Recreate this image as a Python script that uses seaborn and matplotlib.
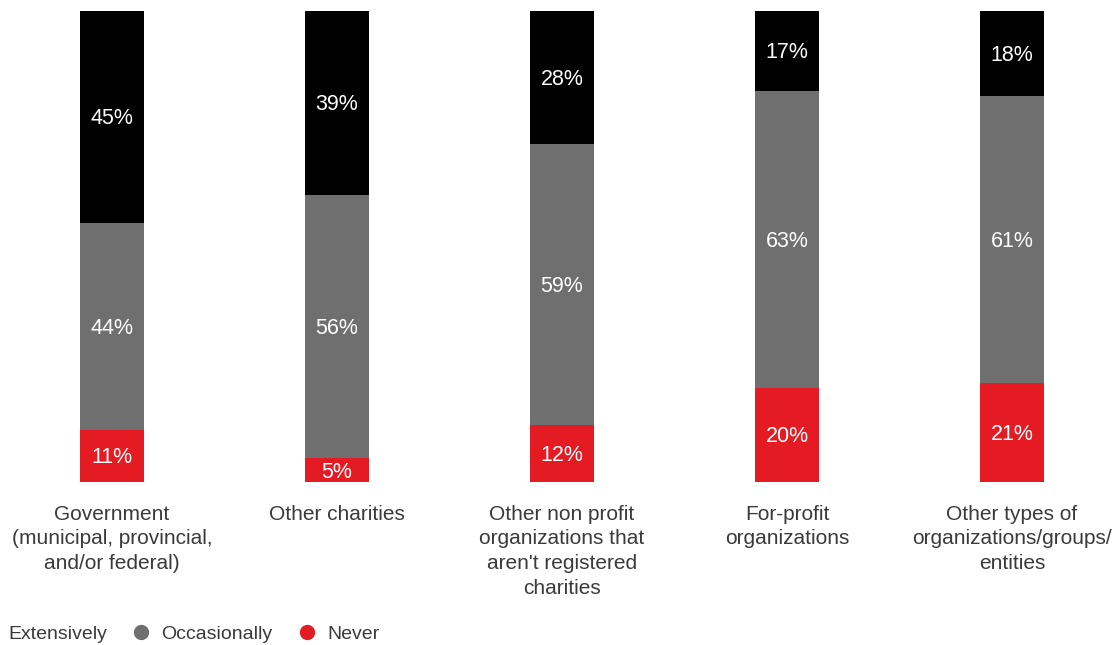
import matplotlib
matplotlib.use("Agg")
import matplotlib.pyplot as plt
from matplotlib.lines import Line2D
import numpy as np
import pandas as pd
import seaborn as sns

categories = [
    "Government\n(municipal, provincial,\nand/or federal)",
    "Other charities",
    "Other non profit\norganizations that\naren't registered\ncharities",
    "For-profit\norganizations",
    "Other types of\norganizations/groups/\nentities",
]
series = ["Extensively", "Occasionally", "Never"]
extensively = [45, 39, 28, 17, 18]
occasionally = [44, 56, 59, 63, 61]
never = [11, 5, 12, 20, 21]
colors = {"Extensively": "#000000", "Occasionally": "#6f6f6f", "Never": "#e41b23"}

sns.set_theme(style="white")
plt.rcParams["font.family"] = ["Liberation Sans", "DejaVu Sans"]

values = np.array([extensively, occasionally, never], dtype=float)
shares = values / values.sum(axis=0) * 100  # each bar fills 100%

fig = plt.figure(figsize=(11.19, 6.45), dpi=100)
ax = fig.add_axes([0.0, 0.2527, 1.0, 0.7302])

# stack from the top: Extensively on top, Never at the bottom
tops = {
    "Extensively": shares.sum(axis=0),
    "Occasionally": shares[1] + shares[2],
    "Never": shares[2],
}
idx = list(range(len(categories)))
for name in series:
    df = pd.DataFrame({"x": idx, "y": tops[name]})
    sns.barplot(data=df, x="x", y="y", color=colors[name], width=0.284,
                saturation=1, ax=ax, native_scale=True, linewidth=0)

bottoms = [shares[1] + shares[2], shares[2], np.zeros(len(categories))]
for si, name in enumerate(series):
    for i in idx:
        mid = bottoms[si][i] + shares[si][i] / 2
        ax.text(i, mid - 0.4, f"{int(values[si][i])}%", ha="center", va="center",
                color="white", fontsize=15.5)

for i, lab in enumerate(categories):
    ax.text(i, -4.8, lab, ha="center", va="top", color="#3a3a3a",
            fontsize=15, linespacing=1.38)

ax.set_xlim(-112 / 225, -112 / 225 + 1119 / 225)
ax.set_ylim(0, 100)
ax.axis("off")

handles = [
    Line2D([], [], marker="o", linestyle="", markersize=0, color="white"),
    Line2D([], [], marker="o", linestyle="", markersize=10, color=colors["Occasionally"]),
    Line2D([], [], marker="o", linestyle="", markersize=10, color=colors["Never"]),
]
leg = fig.legend(handles, series, loc="center left", bbox_to_anchor=(-0.018, 0.017),
                 ncol=3, frameon=False, fontsize=14, handlelength=0.8,
                 handletextpad=0.65, columnspacing=1.35, borderpad=0,
                 borderaxespad=0)
for t in leg.get_texts():
    t.set_color("#3a3a3a")
leg.legend_handles[0].set_visible(False)

fig.savefig("out.png", dpi=100)
